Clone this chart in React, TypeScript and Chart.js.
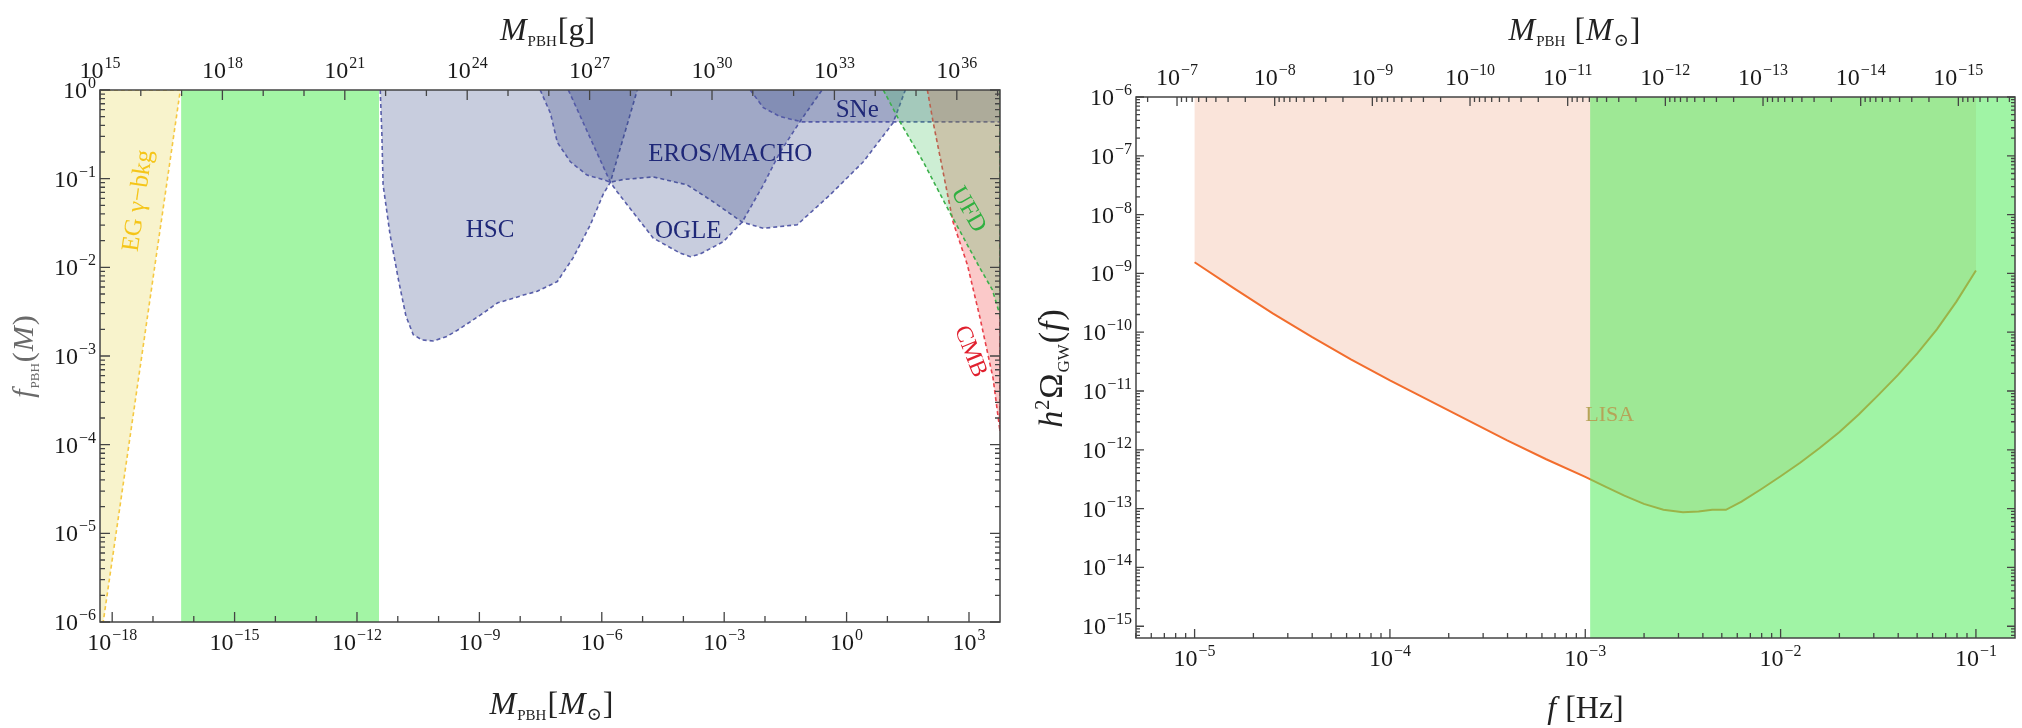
import React, { useEffect, useRef } from "react";
import { Chart, registerables } from "chart.js";

Chart.register(...registerables);

const SERIF = '"Liberation Serif", "DejaVu Serif", serif';
const FRAME = "#444";
const INK = "#1a1a1a";
const NAVY = "#1f2878";

// ---------------- Left panel (log10 values) ----------------
const MSUN_GRAMS = 1.989e33;
const LEFT_LOGM_RANGE = [-18.2986, 3.76]; // log10 M_PBH [M_sun]
const LEFT_LOGF_RANGE = [-6, 0]; // log10 f_PBH

const EG_GAMMA = [[-18.3, 0], [-16.33, 0], [-18.22, -6], [-18.3, -6]];
const GREEN_BAND = [[-16.31, 0], [-11.46, 0], [-11.46, -6], [-16.31, -6]];
const HSC = [
  [-11.43, 0], [-11.39, -0.5], [-11.36, -1.07], [-11.19, -1.63], [-10.98, -2.15], [-10.8, -2.55],
  [-10.62, -2.76], [-10.4, -2.82], [-10.13, -2.83], [-9.8, -2.78], [-9.54, -2.71], [-8.98, -2.54],
  [-8.55, -2.4], [-8.25, -2.36], [-7.9, -2.31], [-7.58, -2.27], [-7.09, -2.16], [-6.7, -1.89],
  [-6.28, -1.52], [-5.97, -1.18], [-5.79, -1.04], [-5.13, 0],
];
const EROS_MACHO = [
  [-7.51, 0], [-7.26, -0.26], [-7.09, -0.59], [-6.77, -0.81], [-6.36, -0.96], [-5.97, -1.01],
  [-5.79, -1.04], [-5.48, -1.01], [-4.74, -0.98], [-3.91, -1.07], [-3.27, -1.26], [-2.56, -1.49],
  [-2.04, -1.56], [-1.21, -1.52], [-0.4, -1.18], [0.41, -0.81], [1.14, -0.37], [1.44, 0],
];
const OGLE = [
  [-6.82, 0], [-5.79, -1.04], [-5.62, -1.15], [-5.13, -1.44], [-4.74, -1.67], [-4.08, -1.84],
  [-3.83, -1.88], [-3.59, -1.85], [-3.02, -1.71], [-2.56, -1.49], [-2.04, -1.07], [-1.63, -0.7],
  [-1.09, -0.32], [-0.6, 0],
];
const SNE = [[-2.36, 0], [-2.04, -0.2], [-1.63, -0.3], [-1.09, -0.36], [3.76, -0.36], [3.76, 0]];
const UFD = [
  [0.9, 0], [1.31, -0.36], [1.88, -0.81], [2.47, -1.33], [2.74, -1.56], [3.27, -2.01],
  [3.57, -2.25], [3.76, -2.54], [3.76, 0],
];
const CMB = [
  [1.98, 0], [2.12, -0.36], [2.61, -1.49], [2.96, -1.97], [3.27, -2.57], [3.59, -3.25],
  [3.76, -3.85], [3.76, 0],
];

const LEFT_X_LABEL_EXPS = [-18, -15, -12, -9, -6, -3, 0, 3];
const LEFT_X_DECADES = [-18, -17, -16, -15, -14, -13, -12, -11, -10, -9, -8, -7, -6, -5, -4, -3, -2, -1, 0, 1, 2, 3];
const LEFT_TOP_LABEL_EXPS = [15, 18, 21, 24, 27, 30, 33, 36];
const LEFT_TOP_DECADES = [15, 16, 17, 18, 19, 20, 21, 22, 23, 24, 25, 26, 27, 28, 29, 30, 31, 32, 33, 34, 35, 36, 37];
const LEFT_Y_LABEL_EXPS = [-6, -5, -4, -3, -2, -1, 0];

// ---------------- Right panel (log10 values) ----------------
const RIGHT_LOGF_RANGE = [-5.3, -0.8]; // log10 f [Hz]
const RIGHT_LOGOMEGA_RANGE = [-15.2, -6]; // log10 h^2 Omega_GW
const MASS_FREQ_OFFSET = -17.18; // log10 M = offset - 2 log10 f
const LISA_CURVE = [
  [-5.0, -8.81], [-4.8, -9.25], [-4.6, -9.68], [-4.4, -10.08], [-4.2, -10.46], [-4.0, -10.82],
  [-3.8, -11.16], [-3.6, -11.5], [-3.4, -11.84], [-3.2, -12.16], [-3.0, -12.46], [-2.9, -12.62],
  [-2.8, -12.78], [-2.7, -12.92], [-2.6, -13.02], [-2.5, -13.06], [-2.42, -13.05], [-2.35, -13.02],
  [-2.28, -13.02], [-2.2, -12.88], [-2.1, -12.67], [-2.0, -12.45], [-1.9, -12.22], [-1.8, -11.97],
  [-1.7, -11.7], [-1.6, -11.4], [-1.5, -11.07], [-1.4, -10.73], [-1.3, -10.36], [-1.2, -9.95],
  [-1.1, -9.48], [-1.0, -8.95],
];
const LISA_REGION_TOP = [[-1.0, -6], [-5.0, -6]];
const GREEN_RIGHT = [[-2.975, -6], [-0.8, -6], [-0.8, -15.2], [-2.975, -15.2]];

const RIGHT_X_LABEL_EXPS = [-5, -4, -3, -2, -1];
const RIGHT_TOP_LABEL_EXPS = [-7, -8, -9, -10, -11, -12, -13, -14, -15];
const RIGHT_Y_LABEL_EXPS = [-15, -14, -13, -12, -11, -10, -9, -8, -7, -6];

// ---------------- helpers ----------------
const toPts = (pts: number[][]) => pts.map(([a, b]) => ({ x: 10 ** a, y: 10 ** b }));

function region(label: string, pts: number[][], fill: string, border: string | null, order: number) {
  return {
    label,
    data: toPts(pts),
    showLine: true,
    fill: "shape",
    backgroundColor: fill,
    borderColor: border ?? "rgba(0,0,0,0)",
    borderWidth: border ? 1.6 : 0,
    borderDash: [4, 3],
    pointRadius: 0,
    tension: 0,
    clip: 0,
    order,
  };
}

type Tick = { v: number; len: number };
type AxisSpec = { scale: string; side: "top" | "bottom" | "left" | "right"; ticks: Tick[]; labels: number[] };
type Note = { text: string; x: number; y: number; rot: number; color: string; size: number };
type Part = { t: string; size: number; italic?: boolean; dy?: number };
type Title = { parts: Part[]; x: number; y: number; rot: number; color: string };

function decadeTicks(exps: number[], major: (e: number) => boolean, lmaj: number, lmin: number): Tick[] {
  return exps.map((e) => ({ v: 10 ** e, len: major(e) ? lmaj : lmin }));
}
function logTicks(e0: number, e1: number, lmaj: number, lmin: number): Tick[] {
  const out: Tick[] = [];
  for (let e = e0; e <= e1; e++) {
    out.push({ v: 10 ** e, len: lmaj });
    for (let m = 2; m <= 9; m++) out.push({ v: m * 10 ** e, len: lmin });
  }
  return out;
}

function drawPow(ctx: CanvasRenderingContext2D, e: number, x: number, y: number, align: string) {
  const es = e < 0 ? "\u2212" + Math.abs(e) : String(e);
  const f1 = `24px ${SERIF}`;
  const f2 = `16px ${SERIF}`;
  ctx.font = f1;
  const w1 = ctx.measureText("10").width;
  ctx.font = f2;
  const w2 = ctx.measureText(es).width;
  const w = w1 + w2 + 1;
  const x0 = align === "center" ? x - w / 2 : align === "right" ? x - w : x;
  ctx.textAlign = "left";
  ctx.textBaseline = "alphabetic";
  ctx.fillStyle = INK;
  ctx.font = f1;
  ctx.fillText("10", x0, y);
  ctx.font = f2;
  ctx.fillText(es, x0 + w1 + 1, y - 10);
}

function drawRich(ctx: CanvasRenderingContext2D, t: Title) {
  ctx.save();
  ctx.translate(t.x, t.y);
  ctx.rotate((t.rot * Math.PI) / 180);
  ctx.fillStyle = t.color;
  ctx.textAlign = "left";
  ctx.textBaseline = "alphabetic";
  const fonts = t.parts.map((p) => `${p.italic ? "italic " : ""}${p.size}px ${SERIF}`);
  const widths = t.parts.map((p, i) => {
    ctx.font = fonts[i];
    return ctx.measureText(p.t).width + 1;
  });
  let x = -widths.reduce((s, w) => s + w, 0) / 2;
  t.parts.forEach((p, i) => {
    ctx.font = fonts[i];
    ctx.fillText(p.t, x, p.dy ?? 0);
    x += widths[i];
  });
  ctx.restore();
}

function makeDecor(axes: AxisSpec[], notes: Note[], titles: Title[]) {
  return {
    id: "decor",
    afterDatasetsDraw(chart: any) {
      const ctx: CanvasRenderingContext2D = chart.ctx;
      const a = chart.chartArea;
      ctx.save();
      for (const n of notes) {
        const px = chart.scales.x.getPixelForValue(10 ** n.x);
        const py = chart.scales.y.getPixelForValue(10 ** n.y);
        ctx.save();
        ctx.translate(px, py);
        ctx.rotate((n.rot * Math.PI) / 180);
        ctx.font = `${n.size}px ${SERIF}`;
        ctx.fillStyle = n.color;
        ctx.textAlign = "center";
        ctx.textBaseline = "middle";
        ctx.fillText(n.text, 0, 0);
        ctx.restore();
      }
      ctx.strokeStyle = FRAME;
      ctx.lineWidth = 1.5;
      ctx.strokeRect(a.left, a.top, a.right - a.left, a.bottom - a.top);
      ctx.lineWidth = 1.3;
      for (const ax of axes) {
        const s = chart.scales[ax.scale];
        const horiz = ax.side === "top" || ax.side === "bottom";
        ctx.beginPath();
        for (const t of ax.ticks) {
          const p = s.getPixelForValue(t.v);
          if (horiz) {
            if (p < a.left - 0.5 || p > a.right + 0.5) continue;
            const y0 = ax.side === "bottom" ? a.bottom : a.top;
            const d = ax.side === "bottom" ? -1 : 1;
            ctx.moveTo(p, y0);
            ctx.lineTo(p, y0 + d * t.len);
          } else {
            if (p < a.top - 0.5 || p > a.bottom + 0.5) continue;
            const x0 = ax.side === "left" ? a.left : a.right;
            const d = ax.side === "left" ? 1 : -1;
            ctx.moveTo(x0, p);
            ctx.lineTo(x0 + d * t.len, p);
          }
        }
        ctx.stroke();
        for (const e of ax.labels) {
          const p = s.getPixelForValue(10 ** e);
          if (ax.side === "bottom") drawPow(ctx, e, p, a.bottom + 28, "center");
          else if (ax.side === "top") drawPow(ctx, e, p, a.top - 12, "center");
          else if (ax.side === "left") drawPow(ctx, e, a.left - 4, p + 8, "right");
        }
      }
      for (const t of titles) drawRich(ctx, t);
      ctx.restore();
    },
  };
}

const SUB = 15;
function leftConfig(): any {
  const blueFill = "rgba(51,70,133,0.27)";
  const blueLine = "rgba(80,86,165,0.95)";
  const datasets = [
    region("EG gamma-bkg", EG_GAMMA, "#f8f3cc", "#f5c842", 10),
    region("Band", GREEN_BAND, "#a3f5a5", null, 9),
    region("HSC", HSC, blueFill, blueLine, 8),
    region("EROS/MACHO", EROS_MACHO, blueFill, blueLine, 7),
    region("OGLE", OGLE, blueFill, blueLine, 6),
    region("SNe", SNE, blueFill, blueLine, 5),
    region("CMB", CMB, "rgba(240,60,60,0.28)", "#e8404a", 4),
    region("UFD", UFD, "rgba(60,190,90,0.26)", "#3cb04b", 3),
  ];
  const yTicks = logTicks(-6, 0, 10, 5);
  const axes: AxisSpec[] = [
    { scale: "x", side: "bottom", ticks: decadeTicks(LEFT_X_DECADES, (e) => e % 3 === 0, 10, 6), labels: LEFT_X_LABEL_EXPS },
    { scale: "xg", side: "top", ticks: decadeTicks(LEFT_TOP_DECADES, (e) => e % 3 === 0, 10, 6), labels: LEFT_TOP_LABEL_EXPS },
    { scale: "y", side: "left", ticks: yTicks, labels: LEFT_Y_LABEL_EXPS },
    { scale: "y", side: "right", ticks: yTicks, labels: [] },
  ];
  const notes: Note[] = [
    { text: "EG \u03b3\u2212bkg", x: -17.36, y: -1.25, rot: -81.8, color: "#f5c518", size: 25 },
    { text: "HSC", x: -8.74, y: -1.58, rot: 0, color: NAVY, size: 25 },
    { text: "EROS/MACHO", x: -2.85, y: -0.73, rot: 0, color: NAVY, size: 25 },
    { text: "OGLE", x: -3.88, y: -1.6, rot: 0, color: NAVY, size: 25 },
    { text: "SNe", x: 0.26, y: -0.23, rot: 0, color: NAVY, size: 25 },
    { text: "UFD", x: 2.98, y: -1.35, rot: 60, color: "#2fb040", size: 24 },
    { text: "CMB", x: 3.03, y: -2.95, rot: 68, color: "#e0202e", size: 24 },
  ];
  const titles: Title[] = [
    { parts: [{ t: "M", size: 32, italic: true }, { t: "PBH", size: SUB, dy: 6 }, { t: "[g]", size: 32 }], x: 548, y: 40, rot: 0, color: "#222" },
    { parts: [{ t: "M", size: 32, italic: true }, { t: "PBH", size: SUB, dy: 6 }, { t: "[", size: 32 }, { t: "M", size: 32, italic: true }, { t: "\u2299", size: 18, dy: 6 }, { t: "]", size: 32 }], x: 552, y: 714, rot: 0, color: "#222" },
    { parts: [{ t: "f", size: 30, italic: true }, { t: "PBH", size: 13, dy: 6 }, { t: "(", size: 30 }, { t: "M", size: 30, italic: true }, { t: ")", size: 30 }], x: 33, y: 356, rot: -90, color: "#6a6a6a" },
  ];
  return {
    type: "scatter",
    data: { datasets },
    options: {
      responsive: false,
      animation: false,
      events: [],
      layout: { padding: { left: 100, right: 30, top: 90, bottom: 106 } },
      plugins: { legend: { display: false }, tooltip: { enabled: false } },
      scales: {
        x: { type: "logarithmic", display: false, bounds: "data", min: 10 ** LEFT_LOGM_RANGE[0], max: 10 ** LEFT_LOGM_RANGE[1] },
        xg: { type: "logarithmic", axis: "x", position: "top", display: false, bounds: "data", min: 10 ** LEFT_LOGM_RANGE[0] * MSUN_GRAMS, max: 10 ** LEFT_LOGM_RANGE[1] * MSUN_GRAMS },
        y: { type: "logarithmic", display: false, bounds: "data", min: 10 ** LEFT_LOGF_RANGE[0], max: 10 ** LEFT_LOGF_RANGE[1] },
      },
    },
    plugins: [makeDecor(axes, notes, titles)],
  };
}

function rightConfig(): any {
  const datasets = [
    region("LISA region", [...LISA_CURVE, ...LISA_REGION_TOP], "#fae4da", null, 10),
    {
      label: "LISA",
      data: toPts(LISA_CURVE),
      showLine: true,
      fill: false,
      borderColor: "#f26d2d",
      borderWidth: 2,
      pointRadius: 0,
      tension: 0,
      clip: 0,
      order: 9,
    },
    region("Green", GREEN_RIGHT, "rgba(85,236,95,0.56)", null, 8),
  ];
  const xTicks = logTicks(-6, -1, 9, 5);
  const topTicks = logTicks(-16, -7, 9, 5);
  const yTicks = logTicks(-16, -6, 8, 4);
  const axes: AxisSpec[] = [
    { scale: "x", side: "bottom", ticks: xTicks, labels: RIGHT_X_LABEL_EXPS },
    { scale: "xm", side: "top", ticks: topTicks, labels: RIGHT_TOP_LABEL_EXPS },
    { scale: "y", side: "left", ticks: yTicks, labels: RIGHT_Y_LABEL_EXPS },
    { scale: "y", side: "right", ticks: yTicks, labels: [] },
  ];
  const notes: Note[] = [{ text: "LISA", x: -2.875, y: -11.41, rot: 0, color: "#b5a458", size: 22 }];
  const titles: Title[] = [
    { parts: [{ t: "M", size: 32, italic: true }, { t: "PBH", size: SUB, dy: 6 }, { t: " [", size: 32 }, { t: "M", size: 32, italic: true }, { t: "\u2299", size: 18, dy: 6 }, { t: "]", size: 32 }], x: 545, y: 40, rot: 0, color: "#222" },
    { parts: [{ t: "f", size: 32, italic: true }, { t: " [Hz]", size: 32 }], x: 556, y: 718, rot: 0, color: "#222" },
    { parts: [{ t: "h", size: 34, italic: true }, { t: "2", size: 20, dy: -13 }, { t: "\u03a9", size: 34 }, { t: "GW", size: 17, dy: 7 }, { t: "(", size: 34 }, { t: "f", size: 34, italic: true }, { t: ")", size: 34 }], x: 32, y: 368, rot: -90, color: "#222" },
  ];
  return {
    type: "scatter",
    data: { datasets },
    options: {
      responsive: false,
      animation: false,
      events: [],
      layout: { padding: { left: 106, right: 7, top: 97, bottom: 90 } },
      plugins: { legend: { display: false }, tooltip: { enabled: false } },
      scales: {
        x: { type: "logarithmic", display: false, bounds: "data", min: 10 ** RIGHT_LOGF_RANGE[0], max: 10 ** RIGHT_LOGF_RANGE[1] },
        xm: {
          type: "logarithmic", axis: "x", position: "top", display: false, bounds: "data", reverse: true,
          min: 10 ** (MASS_FREQ_OFFSET - 2 * RIGHT_LOGF_RANGE[1]),
          max: 10 ** (MASS_FREQ_OFFSET - 2 * RIGHT_LOGF_RANGE[0]),
        },
        y: { type: "logarithmic", display: false, bounds: "data", min: 10 ** RIGHT_LOGOMEGA_RANGE[0], max: 10 ** RIGHT_LOGOMEGA_RANGE[1] },
      },
    },
    plugins: [makeDecor(axes, notes, titles)],
  };
}

export default function App() {
  const leftRef = useRef<HTMLCanvasElement>(null);
  const rightRef = useRef<HTMLCanvasElement>(null);
  useEffect(() => {
    const c1 = new Chart(leftRef.current as HTMLCanvasElement, leftConfig());
    const c2 = new Chart(rightRef.current as HTMLCanvasElement, rightConfig());
    return () => {
      c1.destroy();
      c2.destroy();
    };
  }, []);
  return (
    <div style={{ position: "absolute", left: 0, top: 0, width: 2022, height: 728, background: "#fff" }}>
      <canvas ref={leftRef} width={1030} height={728} style={{ position: "absolute", left: 0, top: 0 }} />
      <canvas ref={rightRef} width={992} height={728} style={{ position: "absolute", left: 1030, top: 0 }} />
    </div>
  );
}
